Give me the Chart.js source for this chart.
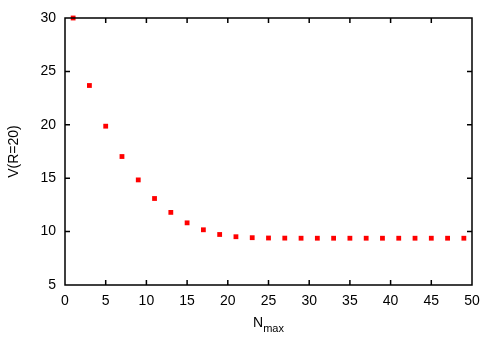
<!DOCTYPE html>
<html>
<head>
<meta charset="utf-8">
<script src="https://cdn.jsdelivr.net/npm/chart.js@4/dist/chart.umd.min.js"></script>
<style>
  html, body { margin: 0; padding: 0; background: #fff; }
  #box { width: 500px; height: 350px; }
</style>
</head>
<body>
<div id="box"><canvas id="grafico"></canvas></div>
<script>
/* dados */
const nmax = [1, 3, 5, 7, 9, 11, 13, 15, 17, 19, 21, 23, 25, 27, 29, 31, 33, 35, 37, 39, 41, 43, 45, 47, 49];
const vR20 = [30.0, 23.68, 19.87, 17.03, 14.84, 13.1, 11.8, 10.82, 10.17, 9.73, 9.52, 9.43, 9.4, 9.39, 9.38, 9.38, 9.38, 9.38, 9.38, 9.38, 9.38, 9.38, 9.38, 9.38, 9.38];
const xTicks = [0, 5, 10, 15, 20, 25, 30, 35, 40, 45, 50];
const yTicks = [5, 10, 15, 20, 25, 30];

const FONT = "'Liberation Sans', Arial, sans-serif";

/* moldura, tiques para dentro e títulos dos eixos */
const molduraPlugin = {
  id: "moldura",
  afterDraw(chart) {
    const { ctx, chartArea: a, scales } = chart;
    const sx = scales.x, sy = scales.y;
    const tl = 5;
    ctx.save();
    ctx.strokeStyle = "#000000";
    ctx.lineWidth = 1.5;
    ctx.setLineDash([]);
    ctx.beginPath();
    ctx.rect(a.left, a.top, a.right - a.left, a.bottom - a.top);
    xTicks.forEach(v => {
      const px = sx.getPixelForValue(v);
      ctx.moveTo(px, a.bottom);
      ctx.lineTo(px, a.bottom - tl);
      ctx.moveTo(px, a.top);
      ctx.lineTo(px, a.top + tl);
    });
    yTicks.forEach(v => {
      const py = sy.getPixelForValue(v);
      ctx.moveTo(a.left, py);
      ctx.lineTo(a.left + tl, py);
      ctx.moveTo(a.right, py);
      ctx.lineTo(a.right - tl, py);
    });
    ctx.stroke();

    ctx.fillStyle = "#000";
    ctx.textBaseline = "alphabetic";
    ctx.textAlign = "left";
    ctx.font = "14px " + FONT;
    const wN = ctx.measureText("N").width;
    ctx.font = "11px " + FONT;
    const wS = ctx.measureText("max").width;
    const x0 = (a.left + a.right) / 2 - (wN + wS) / 2;
    ctx.font = "14px " + FONT;
    ctx.fillText("N", x0, 327);
    ctx.font = "11px " + FONT;
    ctx.fillText("max", x0 + wN, 332);

    ctx.font = "14px " + FONT;
    ctx.translate(18, (a.top + a.bottom) / 2);
    ctx.rotate(-Math.PI / 2);
    ctx.textAlign = "center";
    ctx.fillText("V(R=20)", 0, 0);
    ctx.restore();
  }
};

const ctx = document.getElementById("grafico").getContext("2d");

new Chart(ctx, {
  type: "scatter",
  data: {
    datasets: [{
      data: nmax.map((n, i) => ({ x: n, y: vR20[i] })),
      pointStyle: "rect",
      pointRadius: 3.4,
      pointBorderWidth: 0,
      backgroundColor: "#ff0000",
      borderColor: "#ff0000",
      clip: false
    }]
  },
  options: {
    responsive: true,
    maintainAspectRatio: false,
    animation: false,
    events: [],
    layout: { padding: { top: 18, right: 28, left: 0, bottom: 0 } },
    plugins: { legend: { display: false }, tooltip: { enabled: false } },
    scales: {
      x: {
        type: "linear",
        min: 0, max: 50,
        afterBuildTicks: s => { s.ticks = xTicks.map(v => ({ value: v })); },
        afterFit: s => { s.height = 65; },
        grid: { display: false, drawTicks: false },
        border: { display: false },
        ticks: { padding: 8, maxRotation: 0, color: "#000", font: { family: FONT, size: 14 } }
      },
      y: {
        type: "linear",
        min: 5, max: 30,
        afterBuildTicks: s => { s.ticks = yTicks.map(v => ({ value: v })); },
        afterFit: s => { s.width = 65; },
        grid: { display: false, drawTicks: false },
        border: { display: false },
        ticks: { padding: 9, color: "#000", font: { family: FONT, size: 14 } }
      }
    }
  },
  plugins: [molduraPlugin]
});
</script>
</body>
</html>
